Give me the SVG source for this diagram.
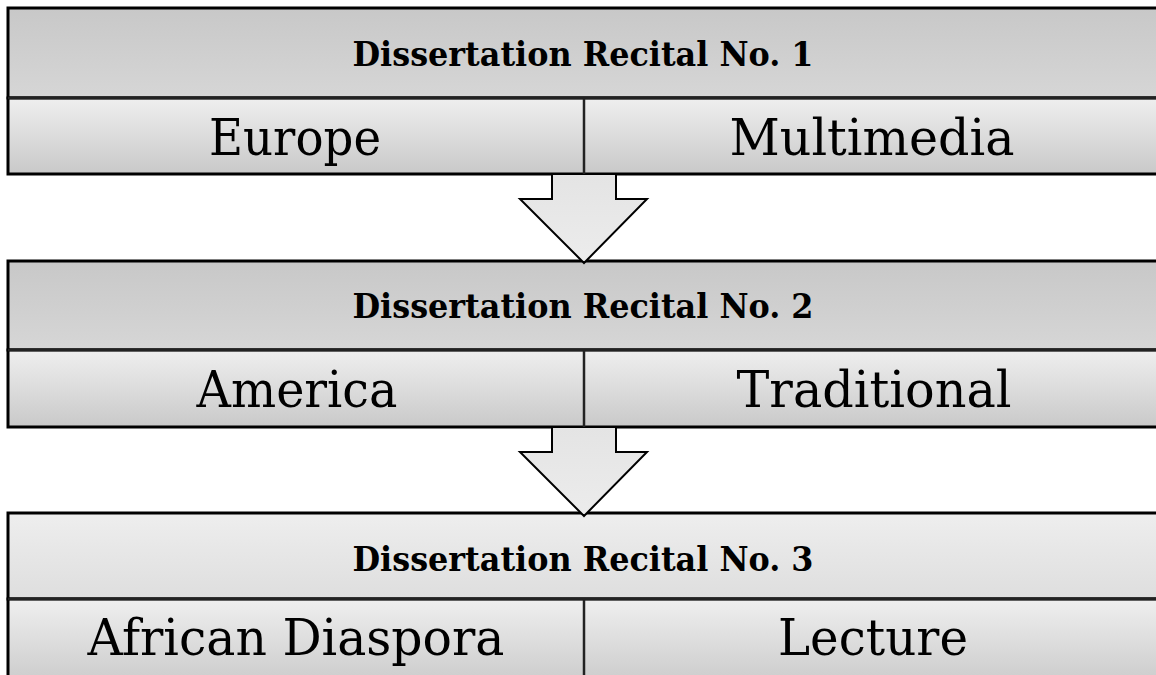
<svg xmlns="http://www.w3.org/2000/svg" width="1156" height="675" viewBox="0 0 1156 675">
<defs>
<linearGradient id="hdrDark" x1="0" y1="0" x2="0" y2="1"><stop offset="0" stop-color="#c8c8c8"/><stop offset="1" stop-color="#d6d6d6"/></linearGradient>
<linearGradient id="hdrLight" x1="0" y1="0" x2="0" y2="1"><stop offset="0" stop-color="#eeeeee"/><stop offset="1" stop-color="#dedede"/></linearGradient>
<linearGradient id="low" x1="0" y1="0" x2="0" y2="1"><stop offset="0" stop-color="#efefef"/><stop offset="1" stop-color="#c9c9c9"/></linearGradient>
<linearGradient id="arr" x1="0" y1="0" x2="0" y2="1"><stop offset="0" stop-color="#e4e4e4"/><stop offset="1" stop-color="#ececec"/></linearGradient>
</defs>
<style>
.box{stroke:#000;stroke-width:3}
.div{stroke:#222;stroke-width:2.5}
.hdr{font-family:"DejaVu Serif",serif;font-weight:bold;font-size:34px;fill:#000;text-anchor:middle}
.cell{font-family:"DejaVu Serif",serif;font-size:51px;fill:#000;text-anchor:middle}
.arrow{fill:url(#arr);stroke:#000;stroke-width:2;stroke-linejoin:miter}
</style>
<rect width="1156" height="675" fill="#fff"/>
<g id="recital1">
<rect class="box" x="8" y="8" width="1160" height="90" fill="url(#hdrDark)"/>
<rect class="box" x="8" y="98" width="1160" height="76" fill="url(#low)"/>
<line class="div" x1="8" y1="98" x2="1160" y2="98"/>
<line class="div" x1="584" y1="98" x2="584" y2="174"/>
<text class="hdr" x="583" y="66" textLength="461" lengthAdjust="spacingAndGlyphs">Dissertation Recital No. 1</text>
<text class="cell" x="295" y="155" textLength="172" lengthAdjust="spacingAndGlyphs">Europe</text>
<text class="cell" x="872" y="155" textLength="285" lengthAdjust="spacingAndGlyphs">Multimedia</text>
</g>
<g id="recital2">
<rect class="box" x="8" y="261" width="1160" height="89" fill="url(#hdrDark)"/>
<rect class="box" x="8" y="350" width="1160" height="77" fill="url(#low)"/>
<line class="div" x1="8" y1="350" x2="1160" y2="350"/>
<line class="div" x1="584" y1="350" x2="584" y2="427"/>
<text class="hdr" x="583" y="318" textLength="461" lengthAdjust="spacingAndGlyphs">Dissertation Recital No. 2</text>
<text class="cell" x="297" y="407" textLength="201" lengthAdjust="spacingAndGlyphs">America</text>
<text class="cell" x="874" y="407" textLength="275" lengthAdjust="spacingAndGlyphs">Traditional</text>
</g>
<g id="recital3">
<rect class="box" x="8" y="513" width="1160" height="86" fill="url(#hdrLight)"/>
<rect class="box" x="8" y="599" width="1160" height="90" fill="url(#low)"/>
<line class="div" x1="8" y1="599" x2="1160" y2="599"/>
<line class="div" x1="584" y1="599" x2="584" y2="690"/>
<text class="hdr" x="583" y="571" textLength="461" lengthAdjust="spacingAndGlyphs">Dissertation Recital No. 3</text>
<text class="cell" x="296" y="655" textLength="417" lengthAdjust="spacingAndGlyphs">African Diaspora</text>
<text class="cell" x="873" y="655" textLength="190" lengthAdjust="spacingAndGlyphs">Lecture</text>
</g>
<g id="connectors">
<path class="arrow" d="M552,175 L552,199 L520,199 L584,263 L647,199 L616,199 L616,175"/>
<path class="arrow" d="M552,428 L552,452 L520,452 L584,516 L647,452 L616,452 L616,428"/>
</g>
</svg>
